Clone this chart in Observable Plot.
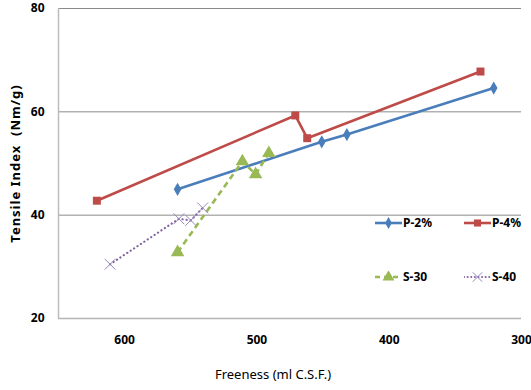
<!DOCTYPE html>
<html><head><meta charset="utf-8">
<script src="https://cdn.jsdelivr.net/npm/d3@7"></script>
<script src="https://cdn.jsdelivr.net/npm/@observablehq/plot@0.6"></script>
<style>
body{margin:0;background:#fff;}
#wrap{position:relative;width:531px;height:390px;font-family:"Noto Sans",sans-serif;}
#legend .item{position:absolute;display:flex;align-items:center;font-weight:bold;font-size:12px;color:#000;line-height:12px;}
#legend svg{display:block;}
</style>
</head><body><div id="wrap"><div id="legend"></div></div>
<script>
const seriesNames = ["P-2%", "P-4%", "S-30", "S-40"];
const freenessP2 = [560, 451, 432, 321];
const tensileP2  = [45.0, 54.2, 55.6, 64.6];
const freenessP4 = [621, 471, 462, 331];
const tensileP4  = [42.8, 59.3, 54.9, 67.8];
const freenessS30 = [560, 511, 501, 491];
const tensileS30  = [32.8, 50.4, 47.9, 52.0];
const freenessS40 = [611, 559, 550, 541];
const tensileS40  = [30.5, 39.3, 39.0, 41.4];
const xTicks = [600, 500, 400, 300];
const yTicks = [20, 40, 60, 80];
const colors = ["#4A7EBB", "#BE4B48", "#98B954", "#8064A2"];
const symbols = ["diamond", "square", "triangle", "times"];
const dashes = [null, null, "6,4", "0.1,4"];
const xLabel = "Freeness (ml C.S.F.)";
const yLabel = "Tensile Index  (Nm/g)";

const xs = [freenessP2, freenessP4, freenessS30, freenessS40];
const ys = [tensileP2, tensileP4, tensileS30, tensileS40];
const series = seriesNames.map((name, i) => xs[i].map((x, j) => ({series: name, x, y: ys[i][j]})));

const marks = [
  Plot.gridY([40, 60, 80], {stroke: "#8a8a8a", strokeOpacity: 1}),
  Plot.ruleY([20], {stroke: "#b5b5b5", strokeWidth: 1.5}),
  Plot.ruleX([650], {stroke: "#bdbdbd", strokeWidth: 1.5}),
  Plot.axisX({ticks: xTicks, tickSize: 0, tickPadding: 17, fontWeight: "bold", fontSize: 12, label: null}),
  Plot.axisY({ticks: yTicks, tickSize: 0, tickPadding: 14, fontWeight: "bold", fontSize: 12, label: null}),
];
series.forEach((s, i) => {
  marks.push(Plot.line(s, {x: "x", y: "y", stroke: colors[i], strokeWidth: i === 3 ? 2.2 : 2.6,
    strokeDasharray: dashes[i], strokeLinecap: i === 3 ? "round" : "butt"}));
});
series.forEach((s, i) => {
  const isTimes = symbols[i] === "times";
  marks.push(Plot.dot(s, {x: "x", y: "y", symbol: symbols[i], r: i === 0 ? 4.0 : i === 1 ? 4.5 : 5,
    fill: isTimes ? "none" : colors[i], stroke: isTimes ? "#9a86bb" : "none", strokeWidth: isTimes ? 1 : 0}));
});
marks.push(Plot.text([yLabel], {text: d => d, frameAnchor: "left", dx: -43, rotate: -90, fontWeight: "bold", fontSize: 13, textAnchor: "middle"}));
marks.push(Plot.text([xLabel], {text: d => d, frameAnchor: "bottom", dy: 60, dx: -17, fontSize: 13, textAnchor: "middle"}));

const chart = Plot.plot({
  width: 531, height: 390,
  marginLeft: 58, marginRight: 10, marginTop: 8, marginBottom: 72,
  x: {domain: [650, 300]},
  y: {domain: [20, 80]},
  style: {fontFamily: "'Noto Sans', sans-serif", background: "#fff", overflow: "visible"},
  marks
});
d3.select(chart).selectAll("text").filter(function() { return this.textContent === yLabel; })
  .attr("letter-spacing", "1px");
document.getElementById("wrap").prepend(chart);

// Legend
const legendPos = [[375, 223], [464, 223], [375, 277], [464, 277]];
const legend = d3.select("#legend");
const symMap = {diamond: d3.symbolDiamond, square: d3.symbolSquare, triangle: d3.symbolTriangle, times: d3.symbolTimes};
seriesNames.forEach((name, i) => {
  const item = legend.append("div").attr("class", "item")
    .style("left", legendPos[i][0] + "px").style("top", (legendPos[i][1] - 6) + "px");
  const svg = item.append("svg").attr("width", 27).attr("height", 12);
  svg.append("line").attr("x1", 0).attr("x2", 27).attr("y1", 6).attr("y2", 6)
    .attr("stroke", colors[i]).attr("stroke-width", i === 3 ? 2 : 2.6)
    .attr("stroke-linecap", i === 3 ? "round" : "butt")
    .attr("stroke-dasharray", dashes[i] ? (i === 2 ? "5,4" : "0.1,3.5") : null);
  const isTimes = symbols[i] === "times";
  const size = i === 0 ? 40 : i === 1 ? 50 : 60;
  svg.append("path").attr("transform", "translate(13.5,6)")
    .attr("d", d3.symbol(symMap[symbols[i]], size)())
    .attr("fill", isTimes ? "none" : colors[i])
    .attr("stroke", isTimes ? "#9a86bb" : "none").attr("stroke-width", 1);
  item.append("span").text(name).style("margin-left", "1px");
});
</script>
</body></html>
